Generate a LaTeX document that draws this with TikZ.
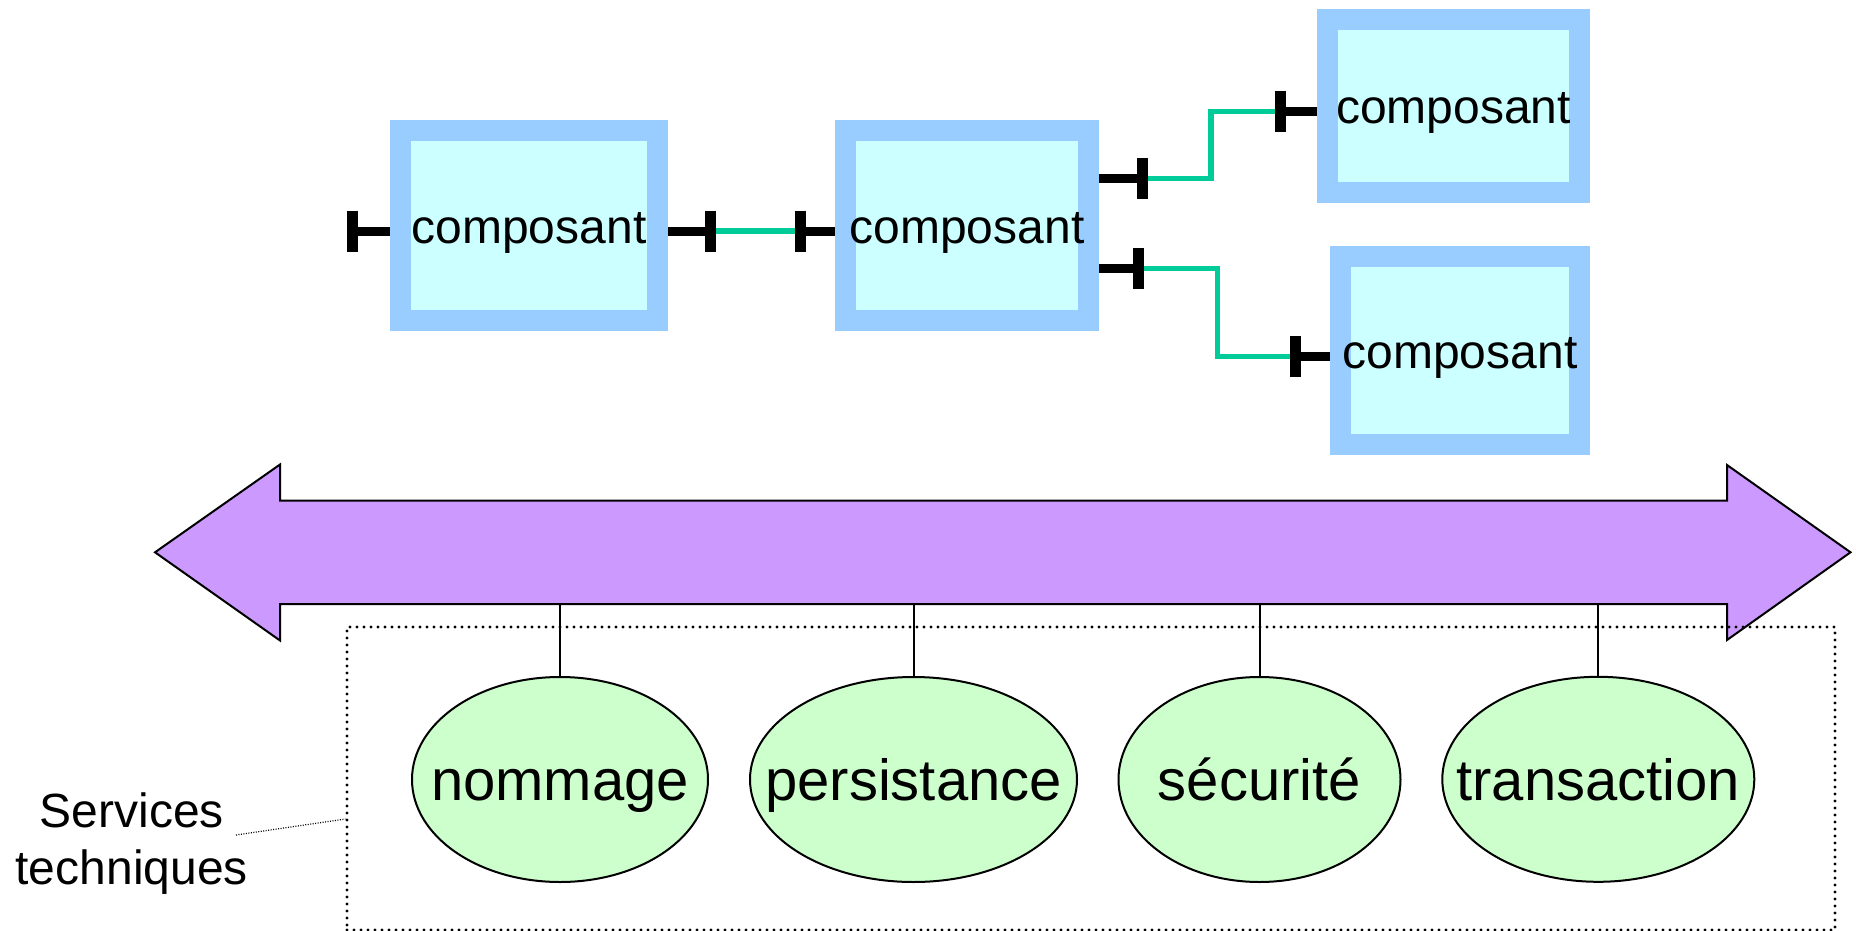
\documentclass[tikz,border=0pt]{standalone}
\usepackage{fontspec}
\setmainfont{Liberation Sans}
\usetikzlibrary{shapes.geometric}
\definecolor{boxborder}{HTML}{99CCFF}
\definecolor{boxfill}{HTML}{CCFFFF}
\definecolor{wire}{HTML}{00CC99}
\definecolor{bus}{HTML}{CC99FF}
\definecolor{svcfill}{HTML}{CCFFCC}
\begin{document}
\begin{tikzpicture}[x=1pt,y=-1pt,
  comp/.style={rectangle, draw=boxborder, fill=boxfill, line width=21pt, inner sep=0pt,
    text height=36pt, text depth=0pt, font=\fontsize{48}{50}\selectfont},
  service/.style={ellipse, draw=black, fill=svcfill, line width=2pt, inner sep=0pt,
    text height=42pt, text depth=0pt,
    minimum height=205pt, font=\fontsize{58}{60}\selectfont},
  wireline/.style={draw=wire, line width=5.5pt},
  stub/.style={draw=black, line width=9pt},
  bar/.style={draw=black, line width=11pt},
  busline/.style={draw=black, line width=2pt},
  svcframe/.style={draw=black, line width=3.2pt, dash pattern=on 0pt off 7pt, line cap=round},
  leader/.style={draw=black, line width=1.2pt, dash pattern=on 1pt off 1.5pt}
]
\useasboundingbox (0,0) rectangle (1856,931);

% components
\node[comp, minimum width=257pt, minimum height=190pt] (b1) at (529,225.5) {composant};
\node[comp, minimum width=243pt, minimum height=190pt] (b2) at (967,225.5) {composant};
\node[comp, minimum width=252pt, minimum height=173pt] (b3) at (1453.5,106) {composant};
\node[comp, minimum width=239pt, minimum height=188pt] (b4) at (1460,350.5) {composant};

% port positions (bar centres)
\coordinate (p1) at (352.4,231);
\coordinate (p2) at (710.5,231);
\coordinate (p3) at (800,231);
\coordinate (p4) at (1142.5,178.5);
\coordinate (p5) at (1138,268.5);
\coordinate (p6) at (1280.5,111.5);
\coordinate (p7) at (1295.7,356.5);
\coordinate (m1) at (1211,140);
\coordinate (m2) at (1217.5,310);

% wires
\draw[wireline] (p2) -- (p3);
\draw[wireline] (p4) -| (m1) |- (p6);
\draw[wireline] (p5) -| (m2) |- (p7);

% stubs
\draw[stub] (p1) -- (b1.west |- p1);
\draw[stub] (b1.east |- p2) -- (p2);
\draw[stub] (p3) -- (b2.west |- p3);
\draw[stub] (b2.east |- p4) -- (p4);
\draw[stub] (b2.east |- p5) -- (p5);
\draw[stub] (p6) -- (b3.west |- p6);
\draw[stub] (p7) -- (b4.west |- p7);

% bars
\foreach \p in {p1,p2,p3,p4,p5,p6,p7}
  \draw[bar] ([yshift=20.5pt]\p) -- ([yshift=-20.5pt]\p);

% bus (double arrow)
\draw[busline, fill=bus, line join=miter]
  (155,552.3) -- (280,464.5) -- (280,500.7) -- (1727,500.7) -- (1727,465)
  -- (1850.5,552.3) -- (1727,640) -- (1727,604) -- (280,604) -- (280,640.5) -- cycle;
\coordinate (busb) at (0,604);

% services
\node[service, minimum width=296pt] (s1) at (560,779.5) {\makebox[0pt]{nommage}};
\node[service, minimum width=327pt] (s2) at (913.5,779.5) {\makebox[0pt]{persistance}};
\node[service, minimum width=282pt] (s3) at (1259.5,779.5) {\makebox[0pt]{sécurité}};
\node[service, minimum width=312pt] (s4) at (1598.3,779.3) {\makebox[0pt]{transaction}};

\foreach \s in {s1,s2,s3,s4}
  \draw[busline] (\s.north) -- (\s.north |- busb);

% services frame
\node[svcframe, rectangle, inner sep=0pt, minimum width=1488pt, minimum height=303pt] (frame) at (1091,778.5) {};

% label
\node[inner sep=0pt, align=center, font=\fontsize{48}{57}\selectfont] (lbl) at (131.7,844) {Services\\techniques};
\coordinate (l1) at (236,835);
\coordinate (l2) at (frame.west |- 0,819);
\draw[leader] (l1) -- (l2);
\end{tikzpicture}
\end{document}
